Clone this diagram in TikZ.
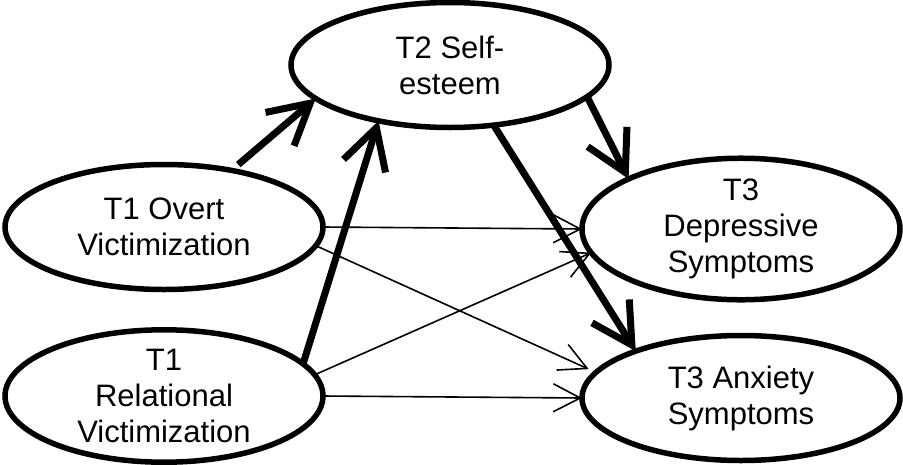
\documentclass[tikz,border=0pt]{standalone}
\usepackage{fontspec}
\setmainfont{Liberation Sans}
\usetikzlibrary{shapes.geometric,arrows.meta}
\begin{document}
\begin{tikzpicture}[x=1pt,y=-1pt,
  construct/.style={ellipse,draw,line width=5.5pt,minimum width=318pt,minimum height=125pt,
    inner sep=0pt,outer sep=0pt,align=center,font=\fontsize{31}{36}\selectfont},
  strongpath/.style={line width=7pt,-{Straight Barb[length=40pt,width=44pt]}},
  weakpath/.style={line width=1.6pt,-{Straight Barb[length=27pt,width=28pt]}}]
\useasboundingbox (0,0) rectangle (903,464);
% constructs
\node[construct] (se)  at (450,65)  {T2 Self-\\esteem};
\node[construct] (ov)  at (164,227) {T1 Overt\\Victimization};
\node[construct] (rel) at (164,396) {T1\\Relational\\Victimization};
\node[construct] (dep) at (741,229) {T3\\Depressive\\Symptoms};
\node[construct] (anx) at (741,398) {T3 Anxiety\\Symptoms};
% mediated paths through self-esteem
\draw[strongpath,shorten <=9pt] (ov.40) -- (se.194);
\draw[strongpath] (rel.13)  -- (se.218);
\draw[strongpath] (se.-13)  -- (dep.156);
\draw[strongpath] (se.-54)  -- (anx.156);
% direct paths
\draw[weakpath] (ov.east)  -- (dep.west);
\draw[weakpath,shorten >=8pt] (ov.-7) -- (anx.170);
\draw[weakpath] (rel.8)    -- (dep.189);
\draw[weakpath] (rel.east) -- (anx.west);
\end{tikzpicture}
\end{document}
